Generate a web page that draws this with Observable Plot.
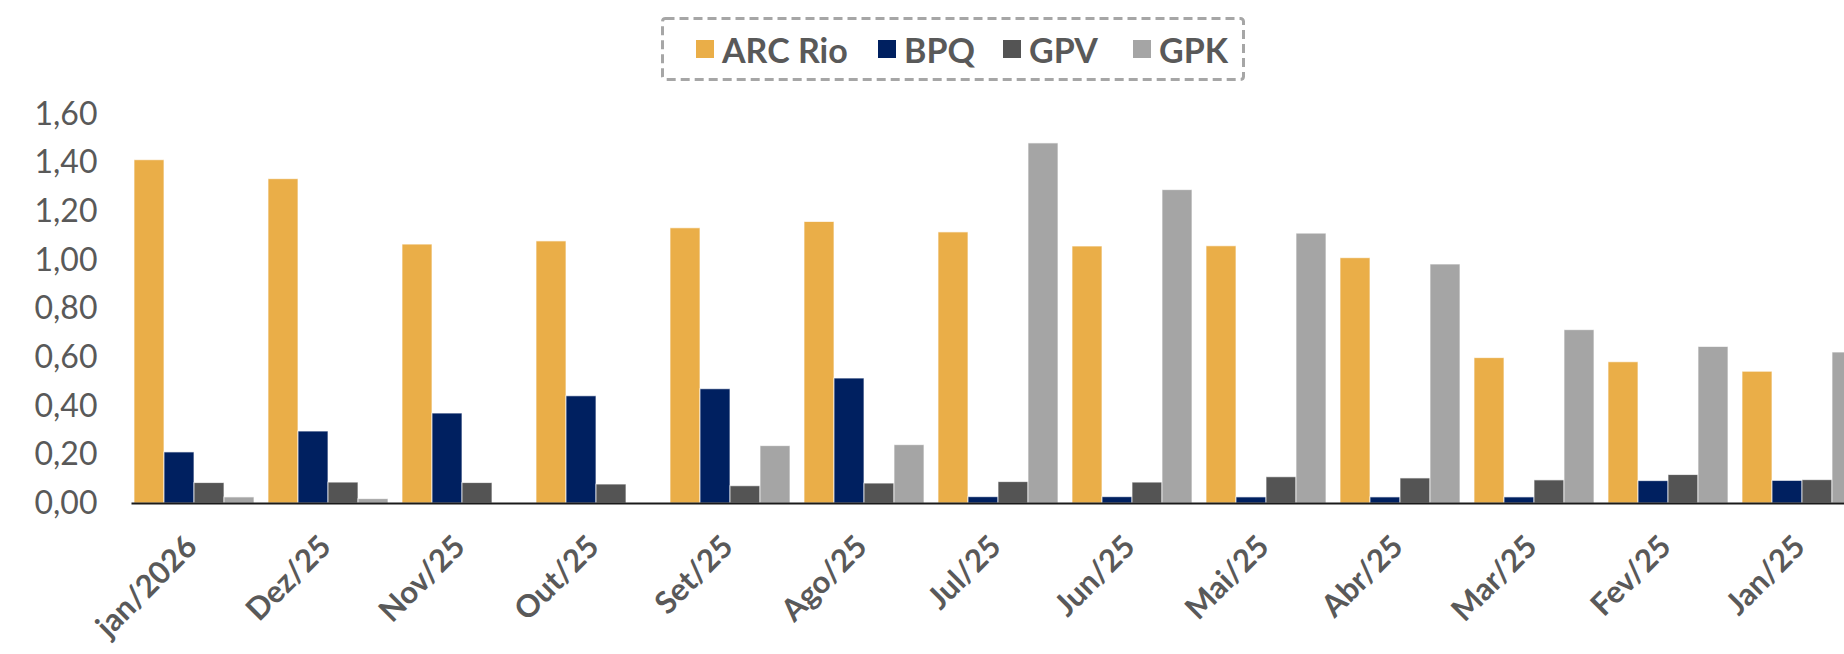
<!DOCTYPE html>
<html>
<head>
<meta charset="utf-8">
<script src="https://cdn.jsdelivr.net/npm/d3@7"></script>
<script src="https://cdn.jsdelivr.net/npm/@observablehq/plot@0.6"></script>
<style>
  html, body { margin: 0; padding: 0; background: #fff; }
  #wrap { position: relative; width: 1844px; height: 654px; overflow: hidden; }
  #legend {
    position: absolute; left: 661px; top: 17px; width: 584px; height: 64px;
    font-family: Lato, sans-serif; font-weight: bold; font-size: 34px; color: #595959;
  }
  #legend svg { position: absolute; left: 0; top: 0; }
  .item { position: absolute; top: 0; height: 64px; display: flex; align-items: center; white-space: nowrap; }
  .sw { width: 18px; height: 18px; margin-right: 8px; }
  #chart svg { overflow: hidden; display: block; }
</style>
</head>
<body>
<div id="wrap">
  <div id="chart"></div>
  <div id="legend"><svg width="584" height="64"><rect x="1.5" y="1.5" width="581" height="61" rx="3" fill="none" stroke="#A6A6A6" stroke-width="3" stroke-dasharray="9 5"/></svg></div>
</div>
<script>
const months = ["jan/2026","Dez/25","Nov/25","Out/25","Set/25","Ago/25","Jul/25","Jun/25","Mai/25","Abr/25","Mar/25","Fev/25","Jan/25"];
const series = ["ARC Rio","BPQ","GPV","GPK"];
const arcRio = [1.412,1.334,1.065,1.078,1.132,1.158,1.115,1.057,1.058,1.009,0.598,0.581,0.542];
const bpq    = [0.210,0.296,0.370,0.441,0.470,0.514,0.026,0.026,0.025,0.025,0.025,0.092,0.093];
const gpv    = [0.084,0.086,0.084,0.078,0.071,0.082,0.088,0.086,0.108,0.103,0.095,0.117,0.096];
const gpk    = [0.025,0.018,0,0,0.236,0.240,1.481,1.289,1.110,0.983,0.713,0.644,0.621];
const colors = ["#EAAE48","#002060","#545454","#A5A5A5"];
const yTicks = [0,0.2,0.4,0.6,0.8,1.0,1.2,1.4,1.6];

const valuesBySeries = [arcRio, bpq, gpv, gpk];
const data = months.flatMap((m, i) => series.map((s, j) => ({month: m, series: s, value: valuesBySeries[j][i]})));

const chart = Plot.plot({
  width: 1844,
  height: 654,
  marginLeft: 126,
  marginRight: -24,
  marginTop: 114,
  marginBottom: 151,
  style: {background: "white", overflow: "hidden"},
  fx: {domain: months, paddingInner: 0.0836, paddingOuter: 0.0418, label: null},
  x: {domain: series, padding: 0, axis: null},
  y: {domain: [0, 1.6], label: null},
  color: {domain: series, range: colors},
  marks: [
    Plot.barY(data, {fx: "month", x: "series", y: "value", fill: "series", stroke: "white", strokeOpacity: 0.7, strokeWidth: 1}),
    Plot.axisY({ticks: yTicks, tickSize: 0, tickPadding: 35, tickFormat: d => d.toFixed(2).replace(".", ","),
      fontSize: 32, fontFamily: "Lato, sans-serif", fill: "#595959", label: null}),
    Plot.axisFx({anchor: "bottom", tickRotate: -45, tickSize: 0, tickPadding: 38, dx: -2, fontSize: 31, fontWeight: "bold",
      fontFamily: "Lato, sans-serif", fill: "#595959", label: null}),
    Plot.frame({anchor: "bottom", facet: "super", stroke: "#1a1a1a", strokeWidth: 2})
  ]
});
document.getElementById("chart").appendChild(chart);

const legendX = [35, 217, 342, 472];
const legend = document.getElementById("legend");
series.forEach((s, j) => {
  const it = document.createElement("div");
  it.className = "item";
  it.style.left = legendX[j] + "px";
  const sw = document.createElement("div");
  sw.className = "sw";
  sw.style.background = colors[j];
  const tx = document.createElement("span");
  tx.textContent = s;
  it.appendChild(sw); it.appendChild(tx);
  legend.appendChild(it);
});
</script>
</body>
</html>
